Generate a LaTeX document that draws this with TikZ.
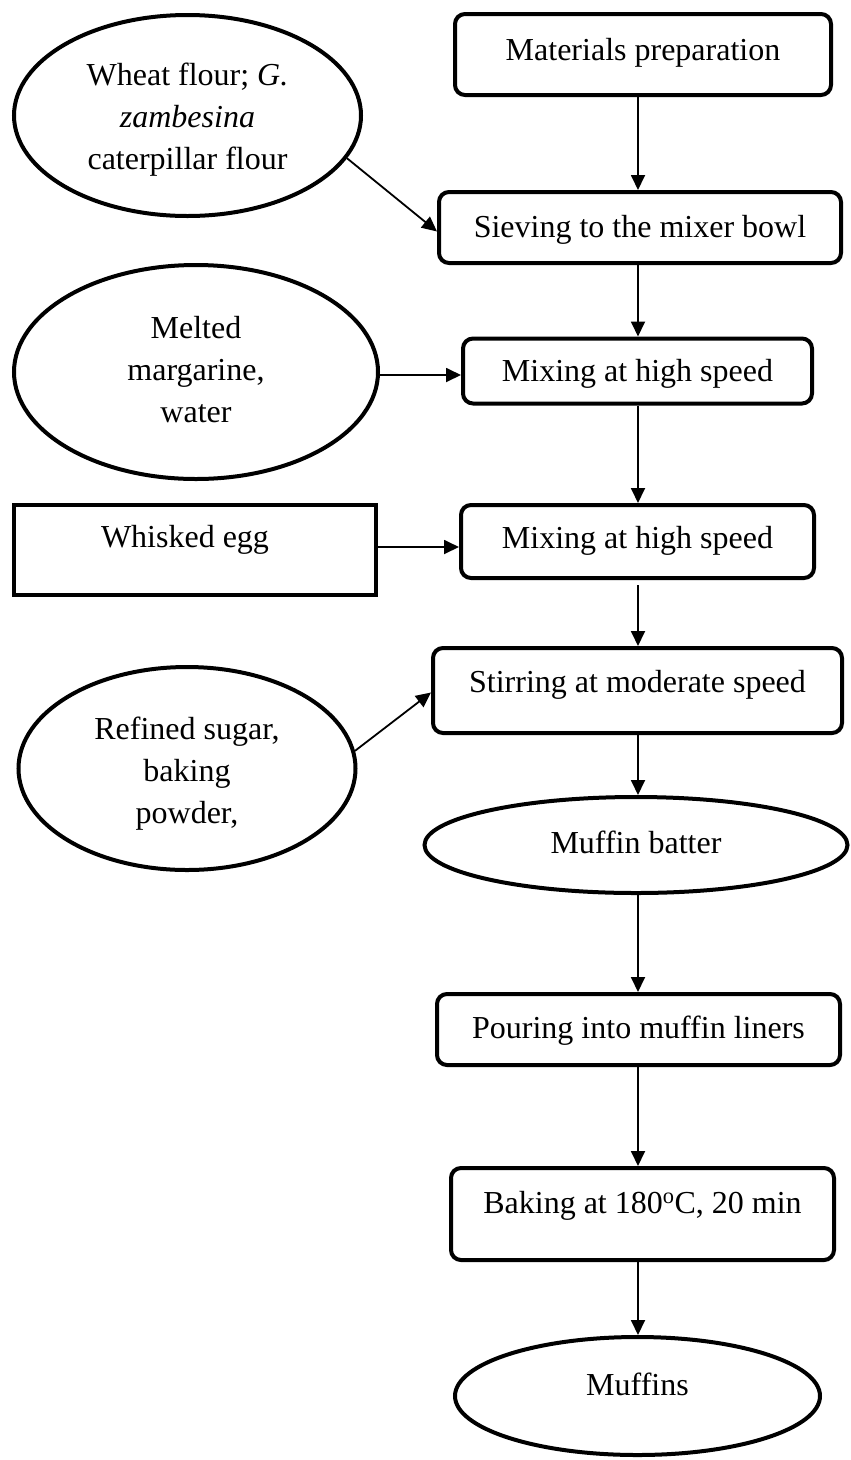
\documentclass[tikz,border=0pt]{standalone}
\usepackage{fontspec}
\setmainfont{Liberation Serif}
\usetikzlibrary{arrows.meta,shapes.geometric}
\begin{document}
\begin{tikzpicture}[x=1pt,y=-1pt,
  every node/.style={font=\fontsize{32}{42}\selectfont, inner sep=0pt},
  rbox/.style={draw, line width=4pt, rounded corners=10pt},
  sbox/.style={draw, line width=4pt},
  ell/.style={draw, ellipse, line width=4pt},
  arr/.style={-{Triangle[length=15pt,width=14pt]}, line width=1.8pt}]
\useasboundingbox (0,0) rectangle (851,1460);
\coordinate (spine) at (638,0);
% main column
\node[rbox, minimum width=376pt, minimum height=81pt, text height=11pt, text depth=0pt] (b1) at (643,54.5) {Materials preparation};
\node[rbox, minimum width=402pt, minimum height=71pt, text height=19pt, text depth=0pt] (b2) at (640,227.5) {Sieving to the mixer bowl};
\node[rbox, minimum width=349pt, minimum height=65pt, text height=21pt, text depth=0pt] (b3) at (637.5,371) {Mixing at high speed};
\node[rbox, minimum width=353pt, minimum height=73pt, text height=13pt, text depth=0pt] (b4) at (637.5,541.5) {Mixing at high speed};
\node[rbox, minimum width=409pt, minimum height=85pt, text height=3pt, text depth=0pt] (b5) at (637.5,690.5) {Stirring at moderate speed};
\node[ell, minimum width=423pt, minimum height=96pt, text height=16pt, text depth=0pt] (batter) at (636,845) {Muffin batter};
\node[rbox, minimum width=403pt, minimum height=71pt, text height=17pt, text depth=0pt] (b6) at (638.5,1029.5) {Pouring into muffin liners};
\node[rbox, minimum width=383pt, minimum height=92pt, text height=0pt, text depth=2pt] (b7) at (642.5,1214) {Baking at 180\textsuperscript{o}C, 20 min};
\node[ell, minimum width=365pt, minimum height=118pt, text height=0pt, text depth=2pt] (muffins) at (637.5,1396) {Muffins};
% inputs
\node[ell, minimum width=347pt, minimum height=201pt, text height=0pt, text depth=61pt] (e1) at (187.5,115.5)
  {\begin{tabular}[t]{@{}c@{}}Wheat flour; \textit{G.}\\ \textit{zambesina}\\ caterpillar flour\end{tabular}};
\node[ell, minimum width=364pt, minimum height=214pt, text height=0pt, text depth=68pt] (e2) at (196,372)
  {\begin{tabular}[t]{@{}c@{}}Melted\\ margarine,\\ water\end{tabular}};
\node[sbox, minimum width=362pt, minimum height=90pt, text height=0pt, text depth=6pt] (whisk) at (195,550) {Whisked egg\hspace*{20pt}};
\node[ell, minimum width=337pt, minimum height=203pt, text height=0pt, text depth=58pt] (e3) at (187,768.5)
  {\begin{tabular}[t]{@{}c@{}}Refined sugar,\\ baking\\ powder,\end{tabular}};
% connectors
\coordinate (b2in) at ([yshift=-4pt]b2.west);
\coordinate (b3in) at ([yshift=-4pt]b3.west);
\coordinate (b4out) at ([yshift=3pt]whisk.east);
\coordinate (b5in) at ([yshift=-2pt]b5.west);
\draw[arr] (b1.south -| spine) -- (b2.north -| spine);
\draw[arr] (b2.south -| spine) -- (b3.north -| spine);
\draw[arr] (b3.south -| spine) -- (b4.north -| spine);
\draw[arr, shorten <=5pt] (b4.south -| spine) -- (b5.north -| spine);
\draw[arr] (b5.south -| spine) -- (batter.north -| spine);
\draw[arr] (batter.south -| spine) -- (b6.north -| spine);
\draw[arr] (b6.south -| spine) -- (b7.north -| spine);
\draw[arr] (b7.south -| spine) -- (muffins.north -| spine);
\draw[arr] (e1.-15) -- (b2in);
\draw[arr] (e2.east |- b3in) -- (b3in);
\draw[arr] (b4out) -- (b4out -| b4.west);
\draw[arr] (e3.6) -- (b5in);
\end{tikzpicture}
\end{document}
